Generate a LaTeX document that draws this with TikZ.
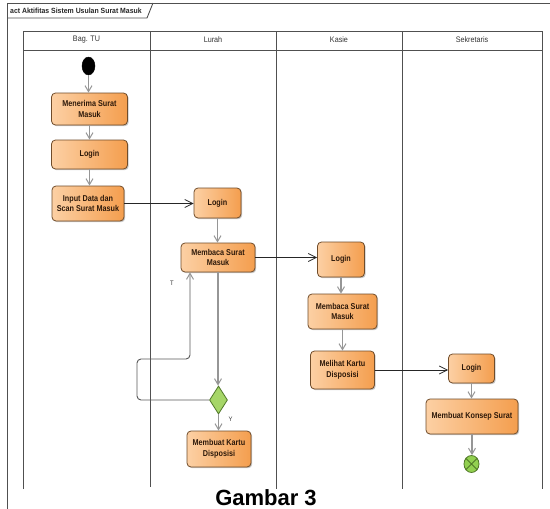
\documentclass[tikz,border=0pt]{standalone}
\usepackage{fontspec}
\setmainfont{Liberation Sans}
\newfontfamily\boxfont[FakeStretch=0.85]{Liberation Sans}
\newfontfamily\headfont[FakeStretch=0.9]{Liberation Sans}
\newfontfamily\titlefont[FakeStretch=0.92]{Liberation Sans}
\usetikzlibrary{arrows.meta,shapes.geometric,shadows}

\definecolor{boxlight}{RGB}{252,208,164}
\definecolor{boxdark}{RGB}{244,158,78}
\definecolor{boxborder}{RGB}{112,76,42}
\definecolor{boxtext}{RGB}{45,25,10}
\definecolor{lanecol}{RGB}{80,80,80}
\definecolor{flowcol}{RGB}{150,150,150}
\definecolor{decfill}{RGB}{166,214,104}
\definecolor{decborder}{RGB}{80,120,40}
\definecolor{endfill}{RGB}{146,208,80}

\tikzset{
  act/.style 2 args={rectangle, rounded corners=4pt, draw=boxborder, line width=0.8pt,
    left color=boxlight, right color=boxdark, minimum width=#1, minimum height=#2,
    inner sep=1pt, align=center, text=boxtext,
    font=\boxfont\bfseries\fontsize{8.5}{10.5}\selectfont,
    drop shadow={shadow xshift=1.2pt, shadow yshift=-1.2pt, fill=black, opacity=0.22}},
  lane/.style={draw=lanecol, line width=0.9pt},
  lanehead/.style={font=\headfont\fontsize{8}{9.5}\selectfont, text=black!80},
  flow/.style={draw=flowcol, line width=1.1pt, -{Straight Barb[length=6pt,width=7pt,line width=1pt]}},
  msg/.style={draw=black!85, line width=0.8pt, -{Straight Barb[length=8pt,width=8pt,line width=0.8pt]}},
  back/.style={draw=black!65, line width=0.9pt, rounded corners=4pt,
    -{Straight Barb[length=6pt,width=7pt,line width=1pt,color=flowcol]}},
  guard/.style={font=\headfont\fontsize{6.5}{8}\selectfont, text=black!80},
}

\begin{document}
\begin{tikzpicture}[x=1pt,y=-1pt]
\clip (0,0) rectangle (550,509);
\fill[white] (0,0) rectangle (550,509);

% diagram frame with its name tab
\draw[lanecol, line width=0.9pt] (7,509) -- (7,3) -- (550,3);
\draw[lanecol, line width=0.9pt] (7,18) -- (147,18) -- (153,3);
\node[anchor=west, font=\titlefont\bfseries\fontsize{7.5}{9}\selectfont, text=black!85, inner sep=0pt]
  (title) at (10,11) {act Aktifitas Sistem Usulan Surat Masuk};

% swimlanes
\draw[lane] (23,489) -- (23,31) -- (542,31) -- (542,489);
\draw[lane] (23,50) -- (542,50);
\draw[lane] (150,31) -- (150,487);
\draw[lane] (276,31) -- (276,489);
\draw[lane] (402,31) -- (402,489);
\node[lanehead] (hTU)  at (86.5,40) {Bag. TU};
\node[lanehead] (hLu)  at (213,40)  {Lurah};
\node[lanehead] (hKa)  at (339,40)  {Kasie};
\node[lanehead] (hSe)  at (472,40)  {Sekretaris};

% Bag. TU
\node[ellipse, fill=black, draw=black, minimum width=13pt, minimum height=18pt, inner sep=0pt]
  (start) at (88.5,66) {};
\node[act={76pt}{32pt}] (terima) at (89.5,109) {Menerima Surat\\Masuk};
\node[act={76pt}{29pt}] (login1) at (89.5,154.5) {Login};
\node[act={72pt}{35pt}] (input)  at (88,203.5) {Input Data dan\\Scan Surat Masuk};

% Lurah
\node[act={47pt}{30pt}] (login2) at (217.5,203) {Login};
\node[act={74pt}{29pt}] (baca1)  at (218,257.5) {Membaca Surat\\Masuk};
\node[diamond, draw=decborder, line width=0.8pt, fill=decfill, minimum width=18pt,
  minimum height=28pt, inner sep=0pt] (dec) at (218.5,400) {};
\node[act={64pt}{36pt}] (kartu) at (219,449) {Membuat Kartu\\Disposisi};
\coordinate (loopA) at (137,359);
\coordinate (loopB) at (190,359);

% Kasie
\node[act={47pt}{35pt}] (login3) at (341,259.5) {Login};
\node[act={69pt}{35pt}] (baca2)  at (342.5,311.5) {Membaca Surat\\Masuk};
\node[act={64pt}{38pt}] (lihat)  at (342.5,370) {Melihat Kartu\\Disposisi};

% Sekretaris
\node[act={46pt}{29pt}] (login4) at (471.5,368.5) {Login};
\node[act={92pt}{35pt}] (konsep) at (472,416.5) {Membuat Konsep Surat};
\node[ellipse, draw=decborder, line width=0.8pt, fill=endfill, minimum width=15pt,
  minimum height=17pt, inner sep=0pt] (fin) at (471.5,464) {};
\draw[decborder, line width=0.8pt] (fin.45) -- (fin.225) (fin.135) -- (fin.315);

% control flows
\draw[flow] (start.south) -- (start.south |- terima.north);
\draw[flow] (login1.north |- terima.south) -- (login1.north);
\draw[flow] (login1.south) -- (login1.south |- input.north);
\draw[msg]  (input.east) -- (input.east -| login2.west);
\draw[flow] (login2.south) -- (login2.south |- baca1.north);
\draw[msg]  (baca1.east) -- (baca1.east -| login3.west);
\draw[flow] (baca1.south) -- (baca1.south |- dec.north);
\draw[flow] (dec.south) -- (dec.south |- kartu.north);
\draw[back] (dec.west) -| (loopA) -- (loopB) -- (loopB |- baca1.south);
\draw[flow] (login3.south) -- (login3.south |- baca2.north);
\draw[flow] (baca2.south) -- (baca2.south |- lihat.north);
\draw[msg]  (lihat.east) -- (lihat.east -| login4.west);
\draw[flow] (login4.south) -- (login4.south |- konsep.north);
\draw[flow] (konsep.south) -- (konsep.south |- fin.north);

% guards
\node[guard] (gT) at (172,283) {T};
\node[guard] (gY) at (230.5,419) {Y};

% caption
\node[anchor=base, font=\bfseries\fontsize{22}{22}\selectfont, inner sep=0pt]
  (cap) at (266,505) {Gambar 3};
\end{tikzpicture}
\end{document}
